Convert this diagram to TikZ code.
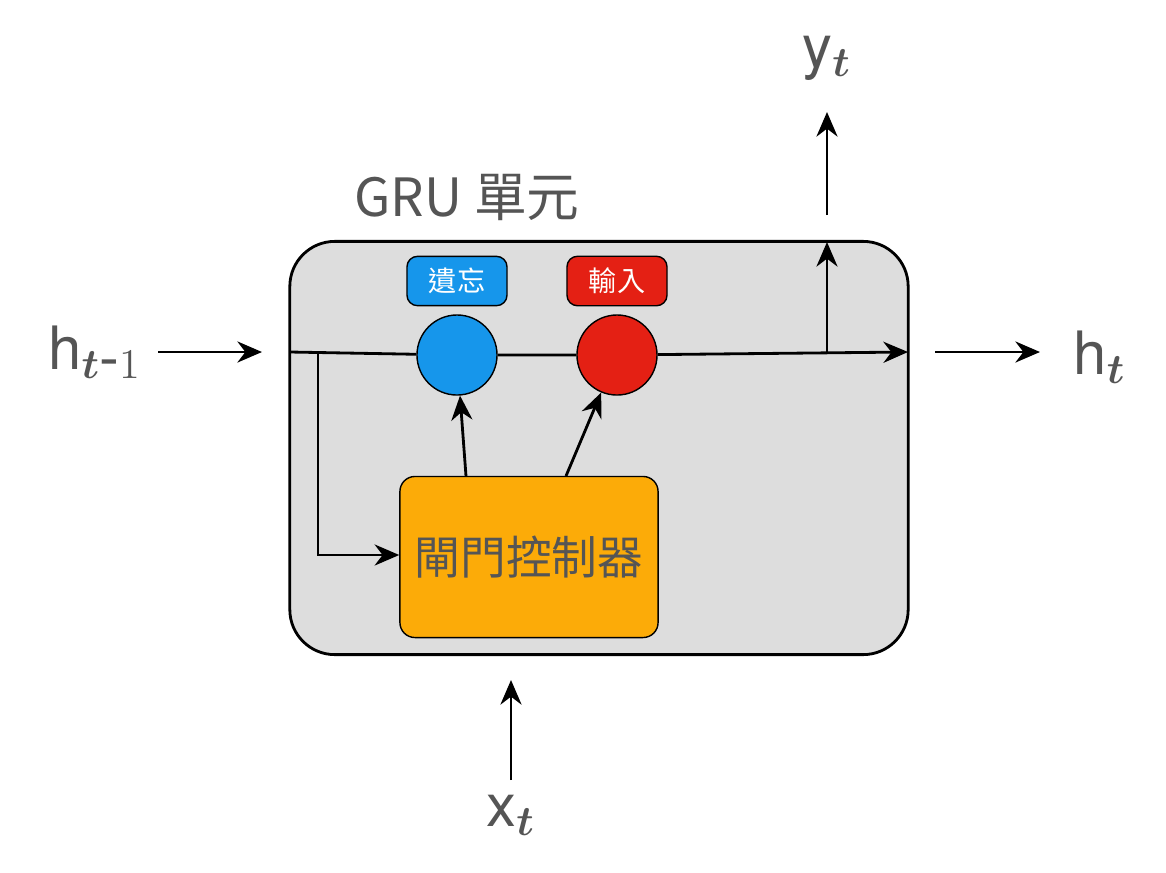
\documentclass[tikz,border=0pt]{standalone}
\usepackage{fontspec}
\usepackage{bm}
\setmainfont{TeX Gyre Heros}
\newfontfamily\cjk{Noto Sans CJK TC}
\usetikzlibrary{arrows.meta}
\definecolor{cellgray}{RGB}{221,221,221}
\definecolor{textgray}{RGB}{85,85,85}
\definecolor{forget}{RGB}{22,150,235}
\definecolor{input}{RGB}{228,32,20}
\definecolor{gate}{RGB}{252,171,8}
\tikzset{
	conn/.style={thick,-{Stealth[length=7pt,width=6pt]}},
	biglabel/.style={text=textgray,font=\fontsize{17}{19}\selectfont},
	tag/.style={draw,rounded corners=3pt,minimum width=1cm,minimum height=0.4cm,text=white,font=\cjk\fontsize{8}{9}\selectfont},
	gatecirc/.style={draw,circle,minimum size=0.8cm}
}
\begin{document}
\begin{tikzpicture}[x=0.01cm,y=-0.01cm]
	\useasboundingbox (0,0) rectangle (1166,872);
	\node[draw,thick,fill=cellgray,rounded corners=0.45cm,minimum width=6.18cm,minimum height=4.13cm] (cell) at (599,448) {};
	\node[text=textgray,font=\cjk\fontsize{15}{17}\selectfont] (title) at (467,197) {GRU 單元};
	\node[gatecirc,fill=forget] (F) at (457,355) {};
	\node[gatecirc,fill=input] (I) at (617,355) {};
	\node[tag,fill=forget] (Ftag) at (457,281) {遺忘};
	\node[tag,fill=input] (Itag) at (617,281) {輸入};
	\node[draw,fill=gate,rounded corners=0.15cm,minimum width=2.58cm,minimum height=1.61cm,text=textgray,font=\cjk\fontsize{13}{15}\selectfont] (ctrl) at (529,557) {閘門控制器};
	\node[biglabel] (hprev) at (95,352) {h$_{\bm t\textrm{-}1}$};
	\node[biglabel] (hnext) at (1100,357) {h$_{\bm t}$};
	\node[biglabel] (y) at (827,58) {y$_{\bm t}$};
	\node[biglabel] (x) at (511,815) {x$_{\bm t}$};
	\coordinate (hin) at (262,352);
	\coordinate (l0) at (290,352);
	\coordinate (split) at (318,352);
	\coordinate (tap) at (827,352);
	\coordinate (l1) at (908,352);
	\coordinate (ytop) at (827,242);
	\coordinate (hout) at (1040,352);
	% main line
	\draw[conn] (158,352) -- (hin);
	\draw[thick] (l0) -- (F) -- (I);
	\draw[conn] (I) -- (l1);
	\draw[conn] (tap) -- (ytop);
	\draw[conn] (827,215) -- (827,112);
	\draw[conn] (935,352) -- (hout);
	% controller
	\draw[conn] (split) |- (ctrl.west |- 0,555);
	\draw[conn] (466,476) -- (F);
	\draw[conn] (566,476) -- (I);
	\draw[conn] (511,780) -- (511,680);
\end{tikzpicture}
\end{document}
